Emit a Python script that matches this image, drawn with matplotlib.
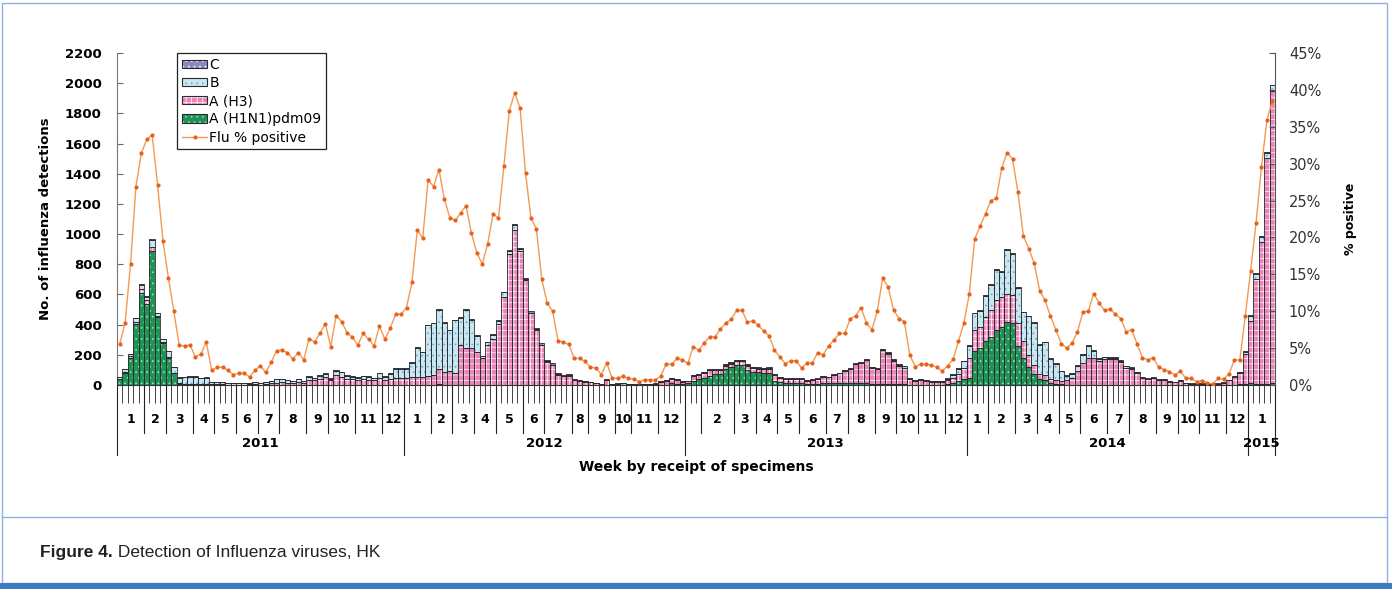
import numpy as np
import matplotlib
matplotlib.use('Agg')
import matplotlib.pyplot as plt
from matplotlib.patches import Patch, Rectangle
from matplotlib.lines import Line2D

plt.rcParams['font.family'] = ['DejaVu Sans']
plt.rcParams['hatch.linewidth'] = 0.5

# Weekly detections, 2011 wk1 .. 2015 wk5
years = ['2011', '2012', '2013', '2014', '2015']
weeks_per_year = [53, 52, 52, 52, 5]

# weeks in each month (month scale under the x axis)
month_weeks = [
    [5, 4, 5, 4, 4, 4, 4, 5, 4, 5, 5, 4],
    [5, 4, 4, 4, 5, 4, 5, 3, 5, 3, 5, 5],
    [3, 6, 4, 4, 4, 5, 4, 5, 4, 4, 5, 4],
    [4, 5, 4, 4, 4, 5, 4, 5, 4, 4, 5, 4],
    [5],
]
month_labels = [
    ['1', '2', '3', '4', '5', '6', '7', '8', '9', '10', '11', '12'],
    ['1', '2', '3', '4', '5', '6', '7', '8', '9', '10', '11', '12'],
    ['', '2', '3', '4', '5', '6', '7', '8', '9', '10', '11', '12'],
    ['1', '2', '3', '4', '5', '6', '7', '8', '9', '10', '11', '12'],
    ['1'],
]

h1n1 = (
    # 2011
    [40, 78, 177, 402, 612, 540, 885, 452, 278, 182,
     78, 8, 5, 3, 2, 2, 2, 0, 0, 0,
     0, 0, 0, 0, 0, 0, 0, 0, 0, 0,
     0, 0, 0, 0, 0, 0, 0, 0, 0, 0,
     0, 0, 0, 0, 0, 0, 0, 0, 0, 0,
     0, 0, 0]
    # 2012
    + [0, 0, 0, 0, 0, 0, 8, 3, 2, 2,
       2, 2, 2, 1, 1, 1, 1, 1, 1, 2,
       2, 2, 1, 1, 0, 0, 0, 0, 0, 0,
       0, 0, 0, 0, 0, 0, 0, 0, 0, 0,
       0, 0, 0, 0, 0, 0, 1, 2, 3, 12,
       8, 6]
    # 2013
    + [11, 25, 37, 44, 59, 73, 73, 104, 117, 133,
       133, 99, 88, 84, 82, 77, 26, 22, 15, 11,
       11, 11, 7, 6, 8, 10, 10, 12, 12, 13,
       12, 15, 12, 10, 8, 8, 8, 6, 5, 4,
       4, 3, 2, 2, 2, 2, 2, 3, 8, 15,
       25, 40]
    # 2014
    + [44, 223, 243, 292, 320, 364, 386, 420, 409, 260,
       180, 120, 70, 40, 30, 15, 8, 4, 2, 2,
       2, 2, 2, 2, 2, 2, 2, 2, 1, 1,
       1, 1, 1, 1, 1, 1, 1, 1, 1, 1,
       1, 1, 1, 1, 1, 1, 1, 1, 2, 3,
       4, 8]
    # 2015
    + [12, 8, 5, 5, 10]
)

h3 = (
    [3, 6, 15, 15, 25, 25, 30, 5, 4, 3,
     3, 3, 2, 2, 2, 2, 2, 4, 4, 4,
     3, 3, 3, 3, 4, 4, 3, 4, 10, 15,
     18, 15, 12, 20, 15, 35, 30, 40, 50, 30,
     65, 55, 40, 38, 32, 38, 36, 30, 45, 35,
     40, 45, 45]
    + [45, 50, 55, 55, 60, 66, 96, 85, 93, 77,
       265, 245, 240, 220, 175, 265, 305, 405, 585, 865,
       1025, 888, 695, 475, 366, 262, 152, 130, 68, 57,
       60, 30, 27, 23, 17, 11, 4, 34, 4, 6,
       10, 4, 5, 4, 5, 5, 6, 20, 22, 25,
       22, 13]
    + [13, 35, 30, 38, 38, 24, 26, 25, 25, 25,
       25, 30, 25, 25, 25, 32, 39, 27, 24, 28,
       28, 28, 22, 28, 32, 46, 41, 55, 66, 82,
       93, 124, 132, 154, 107, 96, 222, 198, 152, 120,
       108, 38, 25, 34, 25, 21, 21, 20, 22, 32,
       50, 75]
    + [133, 141, 143, 161, 177, 199, 200, 180, 187, 150,
       110, 80, 60, 35, 35, 25, 25, 25, 30, 45,
       90, 145, 175, 180, 160, 172, 170, 172, 150, 112,
       103, 78, 43, 37, 44, 31, 31, 22, 16, 26,
       10, 6, 6, 6, 3, 3, 6, 12, 28, 50,
       75, 200]
    + [415, 695, 940, 1500, 1940]
)

flu_b = (
    [8, 20, 15, 25, 28, 20, 45, 20, 25, 42,
     40, 38, 45, 48, 50, 40, 45, 13, 13, 13,
     12, 12, 12, 10, 11, 13, 10, 13, 15, 23,
     20, 16, 12, 18, 10, 20, 15, 20, 22, 12,
     28, 28, 20, 18, 16, 20, 20, 15, 32, 21,
     33, 60, 62]
    + [62, 97, 192, 163, 335, 344, 394, 324, 267, 349,
       179, 251, 190, 107, 13, 18, 28, 20, 27, 23,
       30, 10, 5, 4, 4, 4, 4, 4, 3, 3,
       4, 3, 2, 2, 2, 1, 1, 2, 1, 1,
       2, 1, 1, 1, 1, 1, 1, 4, 5, 8,
       7, 5]
    + [3, 4, 4, 4, 5, 5, 5, 6, 6, 6,
       6, 6, 6, 6, 6, 6, 6, 4, 3, 3,
       3, 3, 2, 2, 2, 2, 2, 2, 2, 2,
       3, 3, 4, 4, 4, 4, 7, 10, 11, 11,
       12, 6, 4, 4, 4, 4, 4, 4, 12, 22,
       33, 42]
    + [83, 110, 106, 138, 167, 199, 164, 295, 275, 232,
       191, 254, 280, 192, 217, 132, 106, 62, 30, 26,
       37, 54, 84, 46, 11, 10, 9, 7, 11, 11,
       9, 5, 4, 3, 3, 3, 3, 3, 2, 3,
       2, 2, 2, 2, 1, 1, 2, 3, 3, 4,
       6, 10]
    + [33, 33, 38, 35, 35]
)

flu_c = (
    [0, 2, 0, 5, 3, 2, 5, 2, 0, 0,
     0, 2, 2, 4, 5, 0, 2, 1, 1, 1,
     1, 1, 1, 1, 1, 1, 1, 1, 1, 2,
     2, 2, 2, 2, 1, 4, 3, 4, 5, 2,
     6, 5, 4, 3, 3, 4, 3, 3, 4, 3,
     4, 5, 3]
    + [3, 3, 3, 3, 3, 3, 3, 3, 3, 3,
       3, 3, 3, 3, 3, 3, 4, 5, 5, 5,
       7, 10, 10, 10, 10, 10, 10, 10, 6, 6,
       6, 4, 4, 4, 3, 3, 2, 4, 2, 3,
       3, 2, 2, 2, 2, 2, 2, 3, 3, 3,
       3, 2]
    + [2, 2, 2, 2, 2, 2, 2, 2, 2, 2,
       2, 2, 2, 2, 2, 2, 2, 2, 2, 2,
       2, 2, 2, 2, 2, 2, 2, 2, 2, 2,
       2, 2, 2, 2, 2, 2, 2, 2, 2, 2,
       2, 2, 2, 2, 2, 2, 2, 2, 2, 2,
       2, 2]
    + [5, 5, 5, 5, 5, 5, 5, 6, 6, 5,
       5, 5, 5, 5, 5, 5, 5, 4, 4, 4,
       4, 4, 4, 4, 4, 4, 4, 4, 4, 4,
       4, 4, 3, 3, 3, 3, 3, 3, 3, 3,
       2, 2, 2, 2, 2, 2, 2, 2, 2, 3,
       3, 4]
    + [4, 4, 4, 3, 5]
)

# Flu % positive
pct = (
    [5.56, 8.4, 16.4, 26.9, 31.4, 33.3, 33.9, 27.1, 19.5, 14.5,
     10.0, 5.4, 5.3, 5.4, 3.8, 4.2, 5.8, 2.0, 2.4, 2.4,
     2.0, 1.4, 1.6, 1.6, 1.1, 2.0, 2.6, 1.7, 3.1, 4.65,
     4.7, 4.4, 3.5, 4.4, 3.4, 6.3, 5.8, 7.0, 8.3, 5.2,
     9.4, 8.6, 7.1, 6.5, 5.4, 7.0, 6.2, 5.3, 8.0, 6.2,
     7.7, 9.6, 9.6]
    + [10.5, 13.9, 21.0, 19.9, 27.8, 26.9, 29.2, 25.2, 22.7, 22.3,
       23.3, 24.3, 20.6, 17.9, 16.4, 19.1, 23.2, 22.6, 29.7, 37.2,
       39.6, 37.5, 28.7, 22.6, 21.2, 14.3, 11.1, 10.0, 6.0, 5.8,
       5.5, 3.6, 3.6, 3.2, 2.4, 2.3, 1.4, 3.0, 0.9, 0.9,
       1.2, 0.9, 0.8, 0.45, 0.7, 0.7, 0.7, 1.2, 2.9, 2.8,
       3.6, 3.4]
    + [2.94, 5.2, 4.7, 5.7, 6.5, 6.5, 7.6, 8.4, 8.9, 10.1,
       10.1, 8.5, 8.7, 8.1, 7.3, 6.7, 4.7, 3.8, 2.9, 3.3,
       3.3, 2.3, 3.0, 3.0, 4.4, 4.1, 5.3, 6.1, 7.0, 7.0,
       9.0, 9.35, 10.5, 8.4, 7.5, 10.0, 14.5, 13.3, 10.2, 9.0,
       8.6, 4.1, 2.5, 2.8, 2.8, 2.7, 2.4, 1.9, 2.6, 3.5,
       5.9, 8.4]
    + [12.3, 19.8, 21.5, 23.2, 25.0, 25.3, 29.4, 31.5, 30.6, 26.1,
       20.2, 18.5, 16.5, 12.8, 11.5, 9.35, 7.5, 5.6, 5.0, 5.7,
       7.2, 9.9, 10.0, 12.4, 11.1, 10.1, 10.3, 9.6, 9.0, 7.2,
       7.5, 5.6, 3.7, 3.4, 3.7, 2.4, 2.1, 1.8, 1.36, 1.9,
       0.9, 0.9, 0.45, 0.6, 0.3, 0.14, 0.9, 0.8, 1.5, 3.4,
       3.4, 9.3]
    + [15.5, 22.0, 29.5, 35.9, 38.5]
)

W, H = 1392, 589
fig = plt.figure(figsize=(W / 100, H / 100), dpi=100)
ax = fig.add_axes([117 / W, 1 - 385 / H, (1275 - 117) / W, (385 - 53) / H])

x = np.arange(len(h1n1))
edge_col = '#2b2b2b'

# name, values, fill colour, hatch colour, hatch
series = [
    ('A (H1N1)pdm09', h1n1, '#1f9356', '#a3dcb5', '...'),
    ('A (H3)', h3, '#e985b8', 'white', '+++'),
    ('B', flu_b, '#c9e7f3', '#6ea6c6', '...'),
    ('C', flu_c, '#8a8ac2', 'white', '...'),
]

bottom = np.zeros(len(x))
leg = {}
for name, vals, fc, hc, hatch in series:
    vals = np.array(vals, dtype=float)
    ax.bar(x, vals, 1.0, bottom=bottom, color=fc, linewidth=0, zorder=2)
    ax.bar(x, vals, 1.0, bottom=bottom, facecolor='none', edgecolor=hc,
           linewidth=0, hatch=hatch, zorder=3)
    ax.bar(x, vals, 1.0, bottom=bottom, facecolor='none', edgecolor=edge_col,
           linewidth=0.6, zorder=4)
    bottom += vals
    leg[name] = (Patch(facecolor=fc, edgecolor='none'),
                 Patch(facecolor='none', edgecolor=hc, hatch=hatch, linewidth=0),
                 Patch(facecolor='none', edgecolor=edge_col, linewidth=0.8))

ax.set_xlim(-0.5, len(x) - 0.5)
ax.set_ylim(0, 2200)
yt = np.arange(0, 2201, 200)
ax.set_yticks(yt)
ax.set_yticklabels([str(v) for v in yt], fontweight='bold', fontsize=9.5)
ax.tick_params(axis='y', direction='in', length=4, width=0.8, pad=11, color='#666')
ax.set_xticks(np.arange(len(x) + 1) - 0.5)
ax.set_xticklabels([])
ax.tick_params(axis='x', direction='out', length=13, width=0.7, color='#444')
ax.spines['top'].set_visible(False)
ax.spines['right'].set_visible(False)
ax.spines['left'].set_color('#777')
ax.spines['bottom'].set_color('#333')
ax.set_ylabel('No. of influenza detections', fontsize=9.5, fontweight='bold', labelpad=9)

# % positive on the right axis
ax2 = ax.twinx()
ln, = ax2.plot(x, pct, color='#f39a50', lw=1.0, marker='o', ms=2.0,
               mfc='#e5611c', mec='#e5611c', zorder=5)
ax2.set_ylim(0, 45)
pt = np.arange(0, 46, 5)
ax2.set_yticks(pt)
ax2.set_yticklabels([f'{v}%' for v in pt], fontsize=10.5, color='#333')
ax2.tick_params(axis='y', direction='in', length=4, width=0.8, pad=10, color='#555')
for s in ['top', 'left', 'bottom']:
    ax2.spines[s].set_visible(False)
ax2.spines['right'].set_color('#555')
ax2.set_ylabel('% positive', fontsize=9, fontweight='bold', labelpad=16)

# month and year scale under the bars
trans = ax.get_xaxis_transform()
start = 0
for yr, nweeks, counts, labels in zip(years, weeks_per_year, month_weeks, month_labels):
    pos = start
    for n, lab in zip(counts, labels):
        if pos != start:
            ax.plot([pos - 0.5, pos - 0.5], [0, -0.145], transform=trans,
                    color='#222', lw=0.8, clip_on=False)
        ax.text(pos + n / 2 - 0.5, -0.105, lab, transform=trans, ha='center',
                va='center', fontsize=9, fontweight='bold')
        pos += n
    ax.plot([start - 0.5, start - 0.5], [0, -0.21], transform=trans,
            color='#222', lw=0.8, clip_on=False)
    ax.text(start + nweeks / 2 - 0.5, -0.175, yr, transform=trans, ha='center',
            va='center', fontsize=9.5, fontweight='bold')
    start += nweeks
ax.plot([start - 0.5, start - 0.5], [0, -0.21], transform=trans,
        color='#222', lw=0.8, clip_on=False)

ax.text(0.5, -0.247, 'Week by receipt of specimens', transform=ax.transAxes,
        ha='center', va='center', fontsize=10, fontweight='bold')

# legend
order = ['C', 'B', 'A (H3)', 'A (H1N1)pdm09']
handles = [leg[n] for n in order] + [ln]
labels = order + ['Flu % positive']
lg = ax2.legend(handles, labels, loc='upper left', bbox_to_anchor=(0.052, 1.0),
                borderaxespad=0, fancybox=False, edgecolor='#222', framealpha=1,
                fontsize=10, handlelength=1.8, handleheight=0.55, handletextpad=0.15,
                labelspacing=0.3, borderpad=0.35, numpoints=1)
lg.get_frame().set_linewidth(0.9)

# panel frame and caption
fig.patches.append(Rectangle((2 / W, 1 - 583 / H), (1387 - 2) / W, (583 - 3) / H,
                             transform=fig.transFigure, fill=False,
                             edgecolor='#8fb3de', lw=1))
fig.add_artist(Line2D([2 / W, 1387 / W], [1 - 517 / H, 1 - 517 / H],
                      transform=fig.transFigure, color='#8fb3de', lw=1))
fig.patches.append(Rectangle((0, 0), 1, 6 / H, transform=fig.transFigure,
                             facecolor='#3f7cbf', edgecolor='none'))

t1 = fig.text(40 / W, 1 - 560 / H, 'Figure 4.', fontsize=12.5, fontweight='bold',
              family='Liberation Sans', va='bottom', color='#222')
ax.annotate(' Detection of Influenza viruses, HK', xy=(1, 0), xycoords=t1,
            va='bottom', ha='left', fontsize=12.5, family='Liberation Sans',
            color='#222', annotation_clip=False)

fig.savefig('out.png', dpi=100)
